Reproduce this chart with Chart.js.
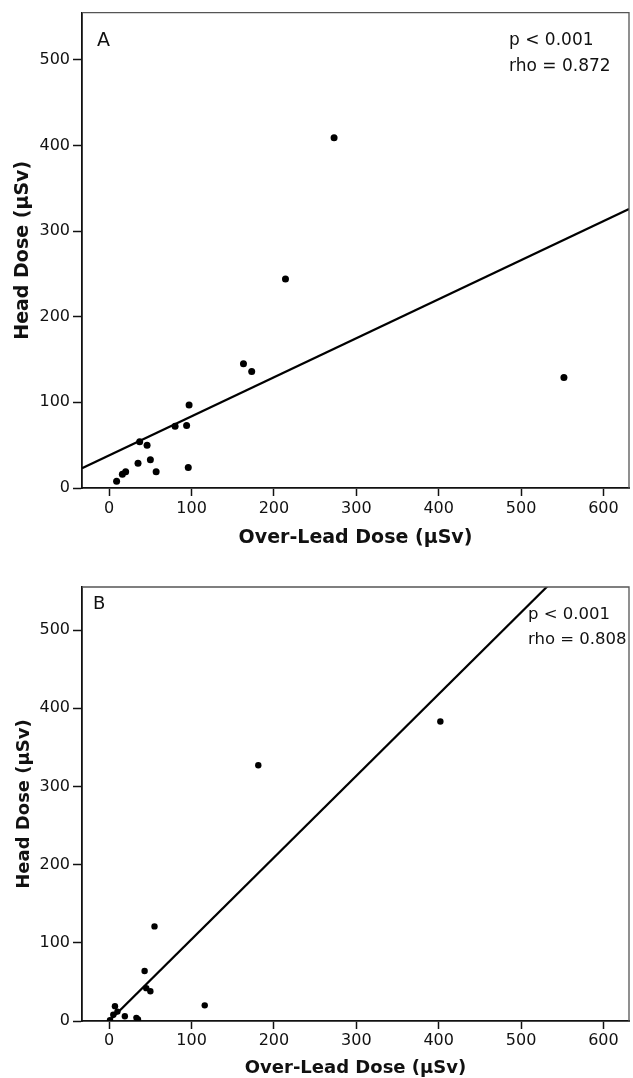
<!DOCTYPE html>
<html>
<head>
<meta charset="utf-8">
<script src="https://cdn.jsdelivr.net/npm/chart.js@4.4.0/dist/chart.umd.min.js"></script>
<style>
  html, body { margin: 0; padding: 0; background: #fff; }
  body { width: 633px; height: 1078px; position: relative; overflow: hidden; }
  canvas { position: absolute; left: 0; }
  #chart-a { top: 0; width: 633px; height: 555px; }
  #chart-b { top: 555px; width: 633px; height: 523px; }
</style>
</head>
<body>
<canvas id="chart-a" width="633" height="555"></canvas>
<canvas id="chart-b" width="633" height="523"></canvas>
<script>
// panel A: over-lead dose vs head dose (µSv)
const A_OVER = [9, 16, 20, 35, 37, 46, 50, 57, 80, 94, 97, 96, 163, 173, 214, 273, 552];
const A_HEAD = [8, 16, 19, 29, 54, 50, 33, 19, 72, 73, 97, 24, 145, 136, 244, 409, 129];
const A_FIT = { intercept: 38, slope: 0.456 };
const A_STATS = ['p < 0.001', 'rho = 0.872'];

// panel B
const B_OVER = [1, 5, 7, 10, 19, 33, 35, 43, 45, 50, 55, 116, 181, 402];
const B_HEAD = [1, 8, 19, 12, 6, 4, 2, 64, 42, 38, 121, 20, 327, 383];
const B_FIT = { intercept: 0, slope: 1.045 };
const B_STATS = ['p < 0.001', 'rho = 0.808'];

const X_TICKS = [0, 100, 200, 300, 400, 500, 600];
const Y_TICKS = [0, 100, 200, 300, 400, 500];
const X_MIN = -33, X_MAX = 631, Y_MIN = 0, Y_MAX = 555;

const FONT = "'DejaVu Sans', Verdana, sans-serif";
const X_TITLE = 'Over-Lead Dose (µSv)';
const Y_TITLE = 'Head Dose (µSv)';

const framePlugin = {
  id: 'frame',
  afterDraw(chart) {
    const { ctx, chartArea: a } = chart;
    ctx.save();
    ctx.strokeStyle = '#555';
    ctx.lineWidth = 1.3;
    ctx.beginPath();
    ctx.moveTo(a.left, a.top);
    ctx.lineTo(a.right, a.top);
    ctx.lineTo(a.right, a.bottom);
    ctx.stroke();
    ctx.restore();
  }
};

const notesPlugin = {
  id: 'notes',
  afterDraw(chart, args, o) {
    const { ctx, chartArea: a } = chart;
    ctx.save();
    ctx.fillStyle = '#111';
    ctx.textBaseline = 'middle';
    ctx.textAlign = 'left';
    ctx.font = `${o.letterSize}px ${FONT}`;
    ctx.fillText(o.letter, a.left + o.letterX, a.top + o.letterY);
    ctx.font = `${o.statSize}px ${FONT}`;
    o.stats.forEach((s, i) => ctx.fillText(s, a.right - o.statX, a.top + o.statY + i * o.statGap));
    ctx.restore();
  }
};

function buildChart(id, over, head, fit, cfg) {
  const pts = over.map((x, i) => ({ x, y: head[i] }));
  const line = [X_MIN, X_MAX].map(x => ({ x, y: fit.intercept + fit.slope * x }));
  new Chart(document.getElementById(id), {
    type: 'scatter',
    data: {
      datasets: [
        { type: 'scatter', data: pts, pointRadius: cfg.dot, pointBackgroundColor: '#000', pointBorderWidth: 0, order: 1 },
        { type: 'line', data: line, borderColor: '#000', borderWidth: 2.2, pointRadius: 0, fill: false, tension: 0, clip: 0, order: 2 }
      ]
    },
    options: {
      responsive: false, animation: false, events: [],
      layout: { padding: { top: cfg.padTop, right: 2, left: 0, bottom: 0 } },
      plugins: {
        legend: { display: false }, tooltip: { enabled: false },
        notes: cfg.notes
      },
      scales: {
        x: {
          type: 'linear', min: X_MIN, max: X_MAX,
          afterBuildTicks: s => { s.ticks = X_TICKS.map(v => ({ value: v })); },
          afterFit: s => { s.height = cfg.xHeight; },
          grid: { drawOnChartArea: false, drawTicks: true, tickLength: 8, tickColor: '#111', tickWidth: 1.5 },
          border: { color: '#111', width: 1.8 },
          ticks: { color: '#111', font: { family: FONT, size: 16 }, padding: cfg.xTickPad, maxRotation: 0, autoSkip: false },
          title: { display: true, text: X_TITLE, color: '#111', font: { family: FONT, size: cfg.titleSize, weight: 'bold', lineHeight: 1 }, padding: { top: 0, bottom: cfg.xTitlePad } }
        },
        y: {
          type: 'linear', min: Y_MIN, max: Y_MAX,
          afterBuildTicks: s => { s.ticks = Y_TICKS.map(v => ({ value: v })); },
          afterFit: s => { s.width = 82; },
          grid: { drawOnChartArea: false, drawTicks: true, tickLength: 9, tickColor: '#111', tickWidth: 1.5 },
          border: { color: '#111', width: 1.8 },
          ticks: { color: '#111', font: { family: FONT, size: 16 }, padding: 3, autoSkip: false },
          title: { display: true, text: Y_TITLE, color: '#111', font: { family: FONT, size: cfg.titleSize, weight: 'bold', lineHeight: 1 }, padding: { top: cfg.yTitlePad, bottom: 0 } }
        }
      }
    },
    plugins: [framePlugin, notesPlugin]
  });
}

buildChart('chart-a', A_OVER, A_HEAD, A_FIT, {
  padTop: 11, xHeight: 67, xTickPad: 3, xTitlePad: 7.5, yTitlePad: 13.5, titleSize: 19, dot: 3.5,
  notes: { letter: 'A', letterSize: 19, letterX: 15, letterY: 28, stats: A_STATS, statSize: 17, statX: 120, statY: 28, statGap: 26 }
});

buildChart('chart-b', B_OVER, B_HEAD, B_FIT, {
  padTop: 32, xHeight: 57, xTickPad: 2, xTitlePad: 1, yTitlePad: 15.5, titleSize: 18, dot: 3.2,
  notes: { letter: 'B', letterSize: 18, letterX: 11, letterY: 17, stats: B_STATS, statSize: 16.5, statX: 101, statY: 28, statGap: 24.5 }
});
</script>
</body>
</html>
